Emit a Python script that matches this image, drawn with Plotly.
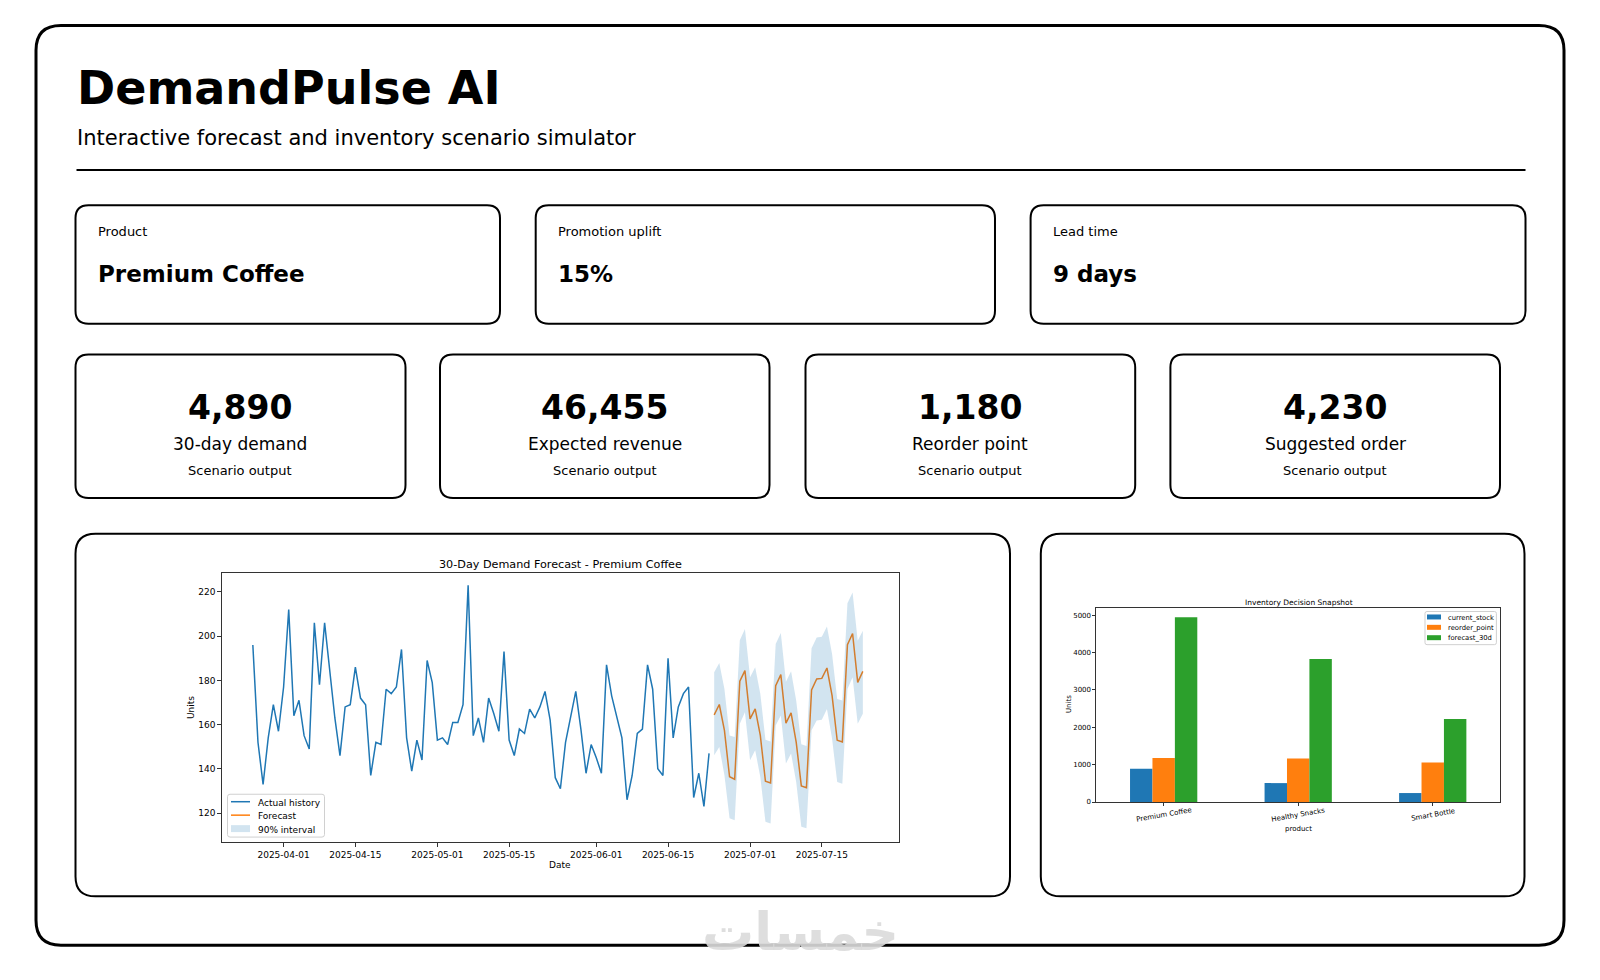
import plotly.graph_objects as go
import pandas as pd

W, H = 1600, 980
FONT = "DejaVu Sans"

# -------------------------
# data
# -------------------------
history_start = "2025-03-26"
history_units = [196, 152, 133, 154, 169, 157, 177, 212, 164, 171,
                 155, 149, 206, 178, 206, 184, 163, 146, 168, 169,
                 186, 172, 169, 137, 152, 151, 176, 174, 177, 194,
                 154, 139, 153, 144, 189, 179, 153, 154, 151, 161,
                 161, 169, 223, 155, 163, 152, 172, 165, 157, 193,
                 153, 146, 158, 156, 167, 163, 168, 175, 162, 136,
                 131, 152, 164, 175, 158, 138, 151, 145, 138, 187,
                 173, 163, 154, 126, 137, 156, 158, 187, 176, 140,
                 137, 190, 154, 168, 174, 177, 127, 138, 123, 147]

forecast_start = "2025-06-24"
forecast_units = [164.4, 169.1, 157.4, 136.4, 135.3, 179.6, 184.4, 162.6, 167.1, 155.1,
                  134.4, 133.6, 177.6, 182.6, 160.7, 165.3, 152.1, 132.3, 131.5, 175.7,
                  180.6, 180.9, 185.6, 173.1, 152.9, 152.1, 196.1, 201.2, 179.1, 184.1]
forecast_upper = [183.7, 187.9, 176.1, 155.1, 154.4, 198.2, 203.2, 181.4, 185.9, 173.9,
                  153.2, 152.4, 196.4, 201.4, 179.4, 184.1, 170.9, 151.1, 150.3, 194.5,
                  199.4, 199.7, 204.4, 191.9, 171.6, 170.9, 214.9, 219.7, 197.9, 202.4]
forecast_lower = [146.1, 149.9, 137.1, 117.6, 116.8, 160.4, 165.6, 143.9, 148.4, 136.3,
                  116.1, 115.3, 159.6, 164.1, 142.4, 146.9, 134.1, 113.8, 113.1, 157.4,
                  161.9, 162.2, 167.1, 153.6, 134.1, 133.3, 176.1, 181.4, 160.4, 164.9]

date_ticks = ["2025-04-01", "2025-04-15", "2025-05-01", "2025-05-15",
              "2025-06-01", "2025-06-15", "2025-07-01", "2025-07-15"]
units_ticks = [120, 140, 160, 180, 200, 220]

products = ["Premium Coffee", "Healthy Snacks", "Smart Bottle"]
current_stock = [888, 506, 240]
reorder_point = [1181, 1163, 1057]
forecast_30d = [4943, 3828, 2220]
stock_ticks = [0, 1000, 2000, 3000, 4000, 5000]

inputs = [("Product", "Premium Coffee"),
          ("Promotion uplift", "15%"),
          ("Lead time", "9 days")]
kpis = [("4,890", "30-day demand"),
        ("46,455", "Expected revenue"),
        ("1,180", "Reorder point"),
        ("4,230", "Suggested order")]

C_BLUE, C_ORANGE, C_GREEN = "#1f77b4", "#ff7f0e", "#2ca02c"
BAND = "rgba(31,119,180,0.2)"

hist_dates = pd.date_range(history_start, periods=len(history_units), freq="D")
fc_dates = pd.date_range(forecast_start, periods=len(forecast_units), freq="D")


def px(x):
    return x / W


def py(y):
    return 1 - y / H


def rrect(x0, y0, x1, y1, r, width=2, color="black", fill=None):
    # rounded box in page pixels -> paper path
    def p(x, y):
        return f"{px(x):.5f},{py(y):.5f}"
    path = (f"M {p(x0 + r, y0)} L {p(x1 - r, y0)} Q {p(x1, y0)} {p(x1, y0 + r)} "
            f"L {p(x1, y1 - r)} Q {p(x1, y1)} {p(x1 - r, y1)} "
            f"L {p(x0 + r, y1)} Q {p(x0, y1)} {p(x0, y1 - r)} "
            f"L {p(x0, y0 + r)} Q {p(x0, y0)} {p(x0 + r, y0)} Z")
    shape = dict(type="path", path=path, xref="paper", yref="paper",
                 line=dict(color=color, width=width))
    if fill:
        shape["fillcolor"] = fill
    return shape


def box(x0, y0, x1, y1, fill):
    return dict(type="rect", xref="paper", yref="paper", x0=px(x0), x1=px(x1),
                y0=py(y1), y1=py(y0), fillcolor=fill, line=dict(width=0))


def hline(x0, x1, y, color, width):
    return dict(type="line", xref="paper", yref="paper", x0=px(x0), x1=px(x1),
                y0=py(y), y1=py(y), line=dict(color=color, width=width))


def label(x, y, text, size, bold=False, color="black", anchor="center", angle=0):
    if bold:
        text = f"<b>{text}</b>"
    return dict(x=px(x), y=py(y), xref="paper", yref="paper", text=text,
                showarrow=False, xanchor=anchor, yanchor="middle", textangle=angle,
                font=dict(family=FONT, size=size, color=color))


fig = go.Figure()

# -------------------------
# forecast chart
# -------------------------
fig.add_trace(go.Scatter(
    x=hist_dates, y=history_units, mode="lines", name="Actual history",
    line=dict(color=C_BLUE, width=1.5), xaxis="x", yaxis="y"))
fig.add_trace(go.Scatter(
    x=fc_dates, y=forecast_units, mode="lines", name="Forecast",
    line=dict(color=C_ORANGE, width=1.5), xaxis="x", yaxis="y"))
fig.add_trace(go.Scatter(
    x=fc_dates, y=forecast_lower, mode="lines", line=dict(width=0),
    hoverinfo="skip", xaxis="x", yaxis="y"))
fig.add_trace(go.Scatter(
    x=fc_dates, y=forecast_upper, mode="lines", line=dict(width=0),
    fill="tonexty", fillcolor=BAND, name="90% interval", xaxis="x", yaxis="y"))

# -------------------------
# inventory bars
# -------------------------
bar_series = [("current_stock", current_stock, C_BLUE),
              ("reorder_point", reorder_point, C_ORANGE),
              ("forecast_30d", forecast_30d, C_GREEN)]
for name, vals, color in bar_series:
    fig.add_trace(go.Bar(x=products, y=vals, name=name, marker_color=color,
                         marker_line_width=0, xaxis="x2", yaxis="y2"))

axis_common = dict(showline=True, mirror=True, linecolor="#333333", linewidth=1,
                   ticks="outside", tickcolor="#333333", showgrid=False,
                   zeroline=False)

shapes = [rrect(36, 25.5, 1564, 949, 25, width=3),
          hline(76.5, 1525.5, 170.7, "black", 2)]
annotations = [label(75, 88, "DemandPulse AI", 46, bold=True, anchor="left"),
               label(75, 139, "Interactive forecast and inventory scenario simulator", 21,
                     anchor="left")]

input_boxes = [(75.5, 500), (535.7, 995), (1030.6, 1525.5)]
for (x0, x1), (cap, val) in zip(input_boxes, inputs):
    shapes.append(rrect(x0, 206, x1, 325, 13))
    annotations.append(label(x0 + 20, 232, cap, 13, anchor="left"))
    annotations.append(label(x0 + 20, 275, val, 23, bold=True, anchor="left"))

kpi_boxes = [(75.5, 405.5), (440, 769.5), (805.5, 1135.2), (1170.4, 1500)]
for (x0, x1), (num, cap) in zip(kpi_boxes, kpis):
    cx = (x0 + x1) / 2
    shapes.append(rrect(x0, 356, x1, 500, 13))
    annotations.append(label(cx, 409, num, 33, bold=True))
    annotations.append(label(cx, 446, cap, 17))
    annotations.append(label(cx, 472, "Scenario output", 13))

shapes.append(rrect(75.5, 536, 1010, 900, 20))
shapes.append(rrect(1040.8, 536, 1524.5, 900, 20))

# compact matplotlib-style legends
shapes.append(rrect(227.5, 797.5, 324.5, 840.5, 2.5, width=1, color="#d0d0d0",
                    fill="rgba(255,255,255,0.85)"))
shapes.append(hline(231, 250, 805, C_BLUE, 1.5))
shapes.append(hline(231, 250, 818.5, C_ORANGE, 1.5))
shapes.append(box(231, 828.5, 250, 835.5, BAND))
for yy, txt in [(805, "Actual history"), (818.5, "Forecast"), (832, "90% interval")]:
    annotations.append(label(256, yy + 1, txt, 9, anchor="left"))

shapes.append(rrect(1425, 614, 1496.4, 647.3, 2, width=1, color="#d0d0d0",
                    fill="rgba(255,255,255,0.85)"))
for i, (name, _, color) in enumerate(bar_series):
    yy = 619.5 + i * 10.4
    shapes.append(box(1427, yy - 2.5, 1441, yy + 2.5, color))
    annotations.append(label(1446, yy + 0.6, name, 6.8, anchor="left"))

# slanted category labels, centred under each tick like pandas' rot
for prod in products:
    annotations.append(dict(x=prod, xref="x2", y=py(818), yref="paper", text=prod,
                            showarrow=False, xanchor="center", yanchor="middle",
                            textangle=-10, font=dict(family=FONT, size=7)))

annotations += [
    label(560, 567, "30-Day Demand Forecast - Premium Coffee", 11.2),
    label(191, 711, "Units", 9, angle=-90),
    label(560, 869, "Date", 9),
    label(1298.5, 605, "Inventory Decision Snapshot", 7.5),
    label(1069, 707, "Units", 7, angle=-90),
    label(1298.5, 832, "product", 7),
    label(800, 936, "خمسات", 52, bold=True, color="rgba(218,218,218,0.9)"),
]

fig.update_layout(
    width=W, height=H,
    margin=dict(l=0, r=0, t=0, b=0),
    paper_bgcolor="white", plot_bgcolor="white",
    font=dict(family=FONT, color="black"),
    shapes=shapes,
    annotations=annotations,
    showlegend=False,
    barmode="group", bargap=0.5, bargroupgap=0,
    xaxis=dict(axis_common, domain=[px(222.3), px(898.5)], anchor="y", type="date",
               range=["2025-03-20 01:00", "2025-07-29 23:00"],
               tickvals=date_ticks, ticktext=date_ticks, ticklen=4,
               tickfont=dict(size=9)),
    yaxis=dict(axis_common, domain=[py(845.7), py(575.7)], anchor="x",
               range=[106.8, 228.4], tickvals=units_ticks, ticklen=4,
               tickfont=dict(size=9)),
    xaxis2=dict(axis_common, domain=[px(1096.4), px(1500)], anchor="y2",
                range=[-0.5, 2.5], ticklen=3, showticklabels=False),
    yaxis2=dict(axis_common, domain=[py(805.3), py(610.3)], anchor="x2",
                range=[0, 5197], tickvals=stock_ticks, ticklen=3,
                tickfont=dict(size=7)),
)

page_fix = ("document.documentElement.style.overflow='hidden';"
            "document.body.style.margin='0';"
            "document.body.style.height='980px';"
            "document.body.style.overflow='hidden';")
fig.write_html("out.html", config={"displayModeBar": False}, post_script=page_fix)
